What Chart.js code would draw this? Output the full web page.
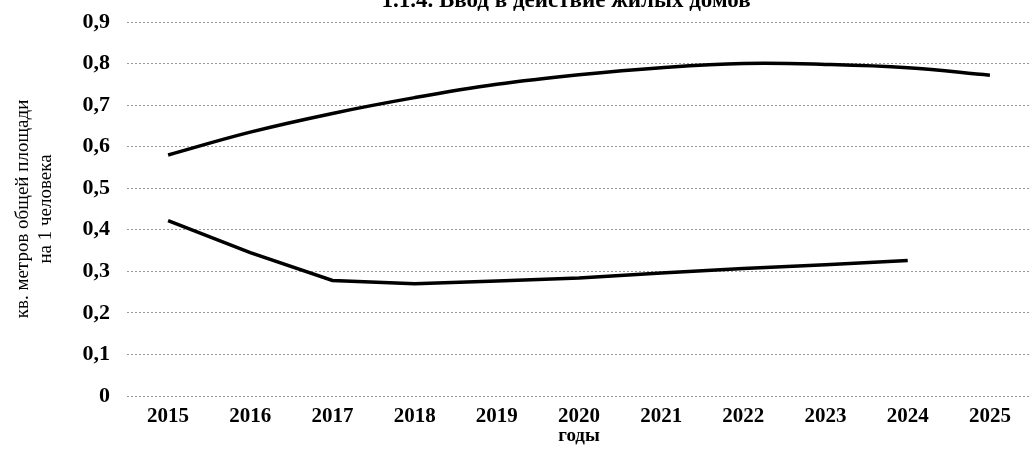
<!DOCTYPE html>
<html>
<head>
<meta charset="utf-8">
<script src="https://cdn.jsdelivr.net/npm/chart.js@4/dist/chart.umd.min.js"></script>
<style>
    html, body { margin: 0; padding: 0; background: #fff; overflow: hidden; }
</style>
</head>
<body>
<canvas id="chart" width="1035" height="458"></canvas>
<script>
// Data
const years = ['2015', '2016', '2017', '2018', '2019', '2020', '2021', '2022', '2023', '2024', '2025'];
const upperSeries = [0.58, 0.635, 0.68, 0.718, 0.75, 0.773, 0.79, 0.80, 0.798, 0.79, 0.772];
const lowerSeries = [0.422, 0.345, 0.278, 0.27, 0.277, 0.284, 0.296, 0.307, 0.316, 0.326, null];
const yTicks = [0, 0.1, 0.2, 0.3, 0.4, 0.5, 0.6, 0.7, 0.8, 0.9];
const chartTitle = '1.1.4. Ввод в действие жилых домов';

const serif = "'Liberation Serif', 'Times New Roman', serif";

// title sits partly above the top edge, as in the scanned original
const clippedTitle = {
    id: 'clippedTitle',
    afterDraw(chart) {
        const ctx = chart.ctx;
        ctx.save();
        ctx.font = 'bold 23px ' + serif;
        ctx.fillStyle = '#000';
        ctx.textAlign = 'center';
        ctx.textBaseline = 'alphabetic';
        ctx.fillText(chartTitle, 566, 7);
        ctx.restore();
    }
};

document.addEventListener('DOMContentLoaded', () => {
    Chart.defaults.color = '#000';
    Chart.defaults.font.family = serif;

    new Chart(document.getElementById('chart'), {
        type: 'line',
        data: {
            labels: years,
            datasets: [
                {
                    label: 'upper',
                    data: upperSeries,
                    borderColor: '#000',
                    borderWidth: 3.5,
                    pointRadius: 0,
                    tension: 0.4,
                    fill: false
                },
                {
                    label: 'lower',
                    data: lowerSeries,
                    borderColor: '#000',
                    borderWidth: 3.5,
                    pointRadius: 0,
                    tension: 0,
                    fill: false
                }
            ]
        },
        options: {
            responsive: false,
            animation: false,
            layout: { padding: { left: 0, right: 4, top: 22, bottom: 0 } },
            plugins: {
                legend: { display: false },
                tooltip: { enabled: false },
                title: { display: false }
            },
            scales: {
                x: {
                    offset: true,
                    afterFit: (scale) => { scale.height = 62; },
                    grid: { display: false },
                    border: { display: false },
                    ticks: {
                        font: { size: 21, weight: 'bold' },
                        padding: 0,
                        maxRotation: 0
                    },
                    title: {
                        display: true,
                        text: 'годы',
                        font: { size: 19, weight: 'bold' },
                        padding: { top: 0, bottom: 11 }
                    }
                },
                y: {
                    min: 0,
                    max: 0.9,
                    afterFit: (scale) => {
                        scale.width = 127;
                        scale.paddingTop = 0;
                        scale.paddingBottom = 0;
                    },
                    afterBuildTicks: (scale) => {
                        scale.ticks = yTicks.map(v => ({ value: v }));
                    },
                    grid: {
                        color: 'rgba(70, 70, 70, 0.55)',
                        lineWidth: 1,
                        drawTicks: false
                    },
                    border: { display: false, dash: [2, 2] },
                    ticks: {
                        font: { size: 22, weight: 'bold' },
                        padding: 17,
                        callback: (v) => v === 0 ? '0' : v.toFixed(1).replace('.', ',')
                    },
                    title: {
                        display: true,
                        text: ['кв. метров общей площади', 'на 1 человека'],
                        font: { size: 19 },
                        padding: { top: 12, bottom: 0 }
                    }
                }
            }
        },
        plugins: [clippedTitle]
    });
});
</script>
</body>
</html>
